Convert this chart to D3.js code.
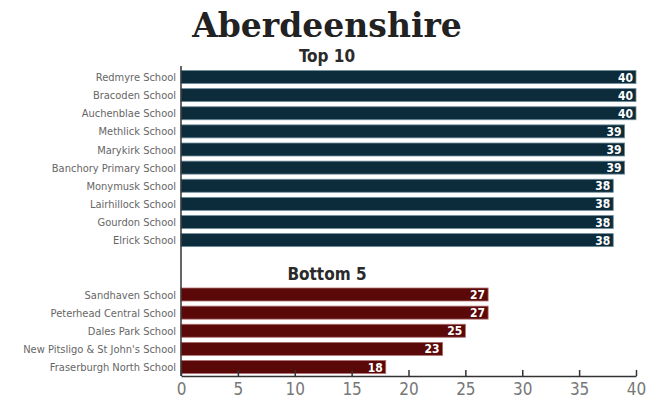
<html>
<head>
<script src="https://cdn.jsdelivr.net/npm/d3@7"></script>
<style>
  body { margin: 0; background: #fff; }
</style>
</head>
<body>
<div id="chart"></div>
<script>
var topSchools = ["Redmyre School", "Bracoden School", "Auchenblae School", "Methlick School", "Marykirk School",
  "Banchory Primary School", "Monymusk School", "Lairhillock School", "Gourdon School", "Elrick School"];
var topScores = [40, 40, 40, 39, 39, 39, 38, 38, 38, 38];
var bottomSchools = ["Sandhaven School", "Peterhead Central School", "Dales Park School",
  "New Pitsligo & St John's School", "Fraserburgh North School"];
var bottomScores = [27, 27, 25, 23, 18];
var xTicks = [0, 5, 10, 15, 20, 25, 30, 35, 40];

var W = 657, H = 400;
var condensed = "'Liberation Sans Narrow', 'DejaVu Sans Condensed', sans-serif";

// rows: top 10, two empty slots for the "Bottom 5" heading, then bottom 5
var rows = [];
topSchools.forEach(function(s, i) { rows.push({ name: s, v: topScores[i], grp: "top" }); });
rows.push({ name: "_gap1" }, { name: "_gap2" });
bottomSchools.forEach(function(s, i) { rows.push({ name: s, v: bottomScores[i], grp: "bot" }); });
var data = rows.filter(function(d) { return d.grp; });

var svg = d3.select("#chart").append("svg").attr("width", W).attr("height", H);

var x = d3.scaleLinear().domain([0, 40]).range([181, 636]);
var y = d3.scalePoint().domain(rows.map(function(d) { return d.name; })).range([77, 367]);
var barH = 13;
var col = { top: "#0c2b3b", bot: "#5b0808" };

svg.append("text").attr("x", 327).attr("y", 37).attr("text-anchor", "middle")
  .style("font-family", "'DejaVu Serif', 'Liberation Serif', serif").style("font-weight", "bold")
  .style("font-size", "33px").style("fill", "#222").text("Aberdeenshire");
svg.append("text").attr("x", 327).attr("y", 62).attr("text-anchor", "middle")
  .style("font-family", condensed).style("font-weight", "bold").style("font-size", "17px")
  .style("fill", "#2a2a2a").text("Top 10");
svg.append("text").attr("x", 327).attr("y", 280).attr("text-anchor", "middle")
  .style("font-family", condensed).style("font-weight", "bold").style("font-size", "17px")
  .style("fill", "#2a2a2a").text("Bottom 5");

svg.selectAll(".bar").data(data).enter().append("rect")
  .attr("class", "bar")
  .attr("x", x(0))
  .attr("y", function(d) { return y(d.name) - barH / 2; })
  .attr("width", function(d) { return x(d.v) - x(0); })
  .attr("height", barH)
  .attr("fill", function(d) { return col[d.grp]; })
  .attr("stroke", function(d) { return d.grp == "top" ? "#6f8f9c" : "#b07070"; })
  .attr("stroke-width", 0.8);

svg.selectAll(".val").data(data).enter().append("text")
  .attr("class", "val")
  .attr("x", function(d) { return x(d.v) - 3; })
  .attr("y", function(d) { return y(d.name) + 4.5; })
  .attr("text-anchor", "end")
  .style("font-family", condensed).style("font-weight", "bold").style("font-size", "12px")
  .style("fill", "#fff")
  .text(function(d) { return d.v; });

svg.selectAll(".lab").data(data).enter().append("text")
  .attr("class", "lab")
  .attr("x", 176)
  .attr("y", function(d) { return y(d.name) + 4; })
  .attr("text-anchor", "end")
  .style("font-family", condensed).style("font-size", "11px")
  .style("fill", "#666")
  .text(function(d) { return d.name; });

// left axis line
svg.append("line").attr("x1", x(0)).attr("x2", x(0)).attr("y1", 66).attr("y2", 376)
  .attr("stroke", "#333").attr("stroke-width", 1.5);

var xAxis = svg.append("g").attr("transform", "translate(0,376)")
  .call(d3.axisBottom(x).tickValues(xTicks).tickSizeInner(-6).tickSizeOuter(0).tickPadding(7));
xAxis.select(".domain").attr("stroke", "#333").attr("stroke-width", 1.5);
xAxis.selectAll(".tick line").attr("stroke", "#333").attr("stroke-width", 1.5);
xAxis.selectAll("text").style("font-family", condensed).style("font-size", "17px").style("fill", "#777");
</script>
</body>
</html>
